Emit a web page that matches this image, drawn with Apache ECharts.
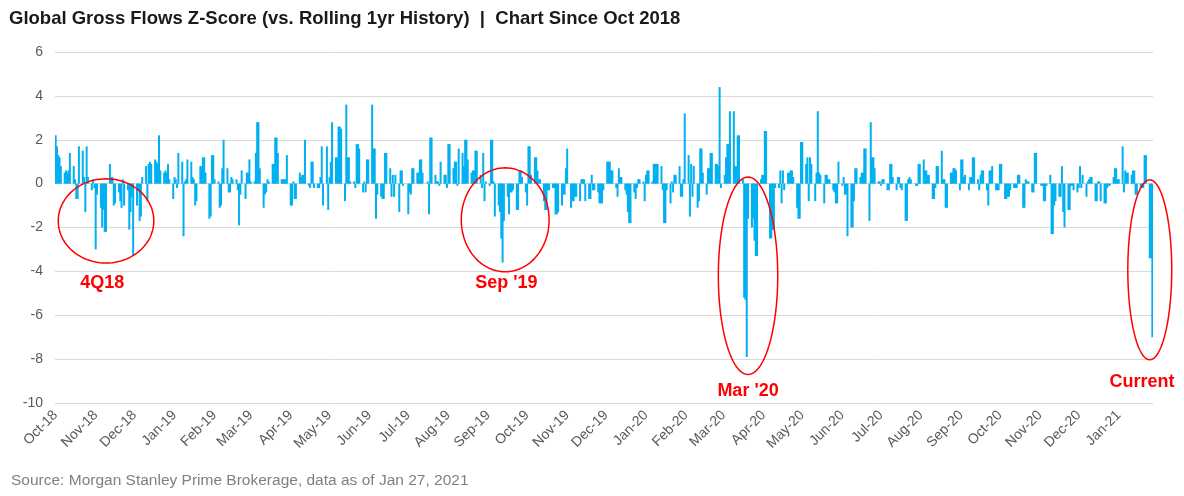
<!DOCTYPE html>
<html><head><meta charset="utf-8">
<script src="https://cdn.jsdelivr.net/npm/echarts@6/dist/echarts.min.js"></script>
<style>html,body{margin:0;padding:0;background:#fff}#c{width:1184px;height:496px}</style>
</head><body><div id="c"></div>
<script>
// ---- Data: daily z-scores, one value per weekday, grouped by month ----
const oct18 = [2.2,1.7,1.3,1.2,0.8, 0.5,0.6,0.5,0.6,1.4, 0.8,0.2,-0.7,-0.7,1.7, 1.5,0.3,-1.3,1.7,0.3, -0.3,0.2,-0.2];
const nov18 = [-3.0,-0.5, -1.1,-2.0,-1.2,-2.2,-2.2, 0.9,0.3,0.3,-1.0,-0.9, -0.4,-0.8,-1.1,0.2,-1.0, -0.3,-2.1,-1.3,-0.6,-3.3];
const dec18 = [-1.0,-0.3,-1.7,-1.5,0.3, 0.8,-0.8,0.9,1.0,0.9, 1.1,1.0,0.9,2.2,0.6, 0.5,0.6,0.5,0.9,0.2, -0.7];
const jan19 = [0.3,0.2,-0.2,1.4, 1.0,-2.4,0.1,0.2,1.1, 1.0,0.3,0.2,-1.0,-0.8, 0.8,0.8,1.2,1.2,0.5, -1.6,-1.5,1.3,1.3];
const feb19 = [0.2, 0.1,-1.1,-1.0,0.7,2.0, 0.7,-0.4,-0.4,0.3,0.2, 0.2,-0.3,-1.9,-0.5,0.6, -0.7,0.5,0.5,1.1];
const mar19 = [0.1, 0.1,1.4,2.8,2.8,0.7, -1.1,-0.5,-0.4,0.2,0.1, 0.9,0.9,2.1,2.1,1.4, 0.2,0.2,0.2,0.2,1.3];
const apr19 = [-1.0,-1.0,0.1,-0.7,-0.7, 0.5,0.3,0.4,0.4,2.0, -0.1,-0.2,1.0,1.0,-0.2, -0.2,-0.2,0.3,1.7,-1.0, 1.7,-1.2];
const may19 = [0.3,1.0,2.8, 1.2,1.2,2.6,2.6,2.5, -0.8,3.6,1.2,1.2,0.1, 0.1,-0.2,1.8,1.8,1.6, -0.4,0.1,-0.4,1.1,1.1];
const jun19 = [3.6,1.6,1.6,-1.6,-0.5, -0.6,-0.7,-0.7,1.4,1.4, 0.7,-0.6,0.4,-0.6,0.4, -1.3,0.6,0.6,-0.1,0.0];
const jul19 = [-1.4,-0.4,-0.5,0.7,0.7, 0.5,0.5,1.1,1.1,0.5, 0.0,0.1,-1.4,2.1,2.1, 0.4,0.1,0.1,-0.1,1.0, 0.4,0.4,-0.2];
const aug19 = [1.8,1.8, 0.7,1.0,1.0,-0.1,1.6, 1.4,0.8,2.0,2.0,1.1, 0.5,0.6,0.6,1.5,1.5, 0.4,-0.2,1.4,-0.8,0.1];
const sep19 = [-0.1,2.0,2.0,0.1,-1.5, -1.0,-1.3,-2.5,-3.6,-1.7, -0.6,-1.4,-0.4,-0.4,-0.3, -1.2,-1.2,0.6,0.6,0.3, -0.4];
const oct19 = [-1.0,1.7,1.7,0.4, 1.2,1.2,0.6,0.2,0.2, -0.8,-1.2,-1.2,-0.3,-0.3, -0.2,-0.2,-1.4,-1.4,-1.3, -1.0,-0.5,-0.5,0.7];
const nov19 = [1.6, -1.1,-0.8,-0.8,-0.6,-0.6, -0.8,0.2,0.2,0.2,-0.8, -0.7,-0.7,0.4,-0.3,-0.3, -0.4,-0.9,-0.9,-0.9,-0.3];
const dec19 = [1.0,1.0,1.0,0.6,0.6, -0.2,-0.6,0.7,0.3,0.3, -0.3,-0.5,-1.3,-1.8,-1.8, -0.4,-0.7,-0.2,0.2,0.2, 0.1,-0.8];
const jan20 = [0.4,0.6,0.6, 0.1,0.9,0.9,0.9,0.9, 0.8,-0.3,-1.8,-1.8,-0.3, -0.9,0.1,-0.4,0.4,0.4, 0.8,-0.6,-0.6,0.2,3.2];
const feb20 = [1.3,-1.5,0.9,-0.6,0.8, -1.1,-0.8,1.6,1.6,0.5, -0.5,0.7,0.7,1.4,1.4, 0.9,0.9,0.8,4.4,-0.2];
const mar20 = [0.4,1.2,1.8,1.8,3.3, 3.3,0.8,0.8,2.2,2.2, 0.2,-5.2,-5.3,-7.9,-1.6, -2.0,-1.6,-2.6,-3.3,-3.3, 0.2,0.4];
const apr20 = [0.4,2.4,2.4, -2.5,-2.5,-2.1,-2.1,-0.2, -0.2,0.6,-0.9,0.6,-0.3, 0.5,0.5,0.6,0.6,0.3, -1.1,-1.6,-1.6,1.9];
const may20 = [1.9, 0.9,1.2,-0.8,1.2,0.9, -0.8,0.5,3.3,0.5,0.4, -0.9,0.4,0.4,0.2,0.2, -0.3,-0.4,-0.9,-0.9,1.0];
const jun20 = [-0.1,0.3,-0.5,-0.5,-2.4, -2.0,-2.0,-0.8,0.7,0.7, 0.3,0.5,0.5,1.6,1.6, -1.7,2.8,1.2,1.2,0.7, 0.1,0.1];
const jul20 = [-0.1,0.2,0.2, -0.3,-0.3,0.9,0.9,0.3, -0.3,0.3,0.3,-0.2,-0.3, -1.7,-1.7,0.2,0.3,0.2, 0.0,-0.1,-0.1,0.9,0.9];
const aug20 = [1.1,0.6,0.6,0.4,0.4, -0.7,-0.7,-0.2,0.8,0.8, 1.5,0.2,0.2,-1.1,-1.1, 0.5,0.5,0.7,0.7,0.6, -0.3];
const sep20 = [1.1,1.1,0.3,0.4, -0.3,0.3,0.3,1.2,1.2, 0.2,-0.3,0.4,0.6,0.6, -0.3,-1.0,0.6,0.6,0.8, -0.3,-0.3,-0.3];
const oct20 = [0.9,0.9, -0.7,-0.7,-0.6,-0.6,-0.3, -0.2,-0.2,-0.2,0.4,0.4, -1.1,-1.1,0.2,0.1,0.1, -0.4,-0.4,1.4,1.4,0.0];
const nov20 = [-0.1,-0.1,-0.8,-0.8,-0.1, 0.4,-2.3,-2.3,-1.0,-0.8, -0.6,-0.6,0.8,-1.3,-2.0, -1.2,-1.2,-0.1,-0.1,-0.3, -0.4];
const dec20 = [-0.2,0.8,-0.2,0.4, -0.6,0.1,0.2,0.3,0.3, -0.8,-0.8,0.1,0.1,-0.8, -0.9,-0.9,-0.2,-0.1,-0.1, 0.3,0.7,0.7,0.2];
const jan21 = [0.2, 1.7,-0.4,0.6,0.5,0.5, 0.4,0.6,0.6,-0.5,-0.5, -0.2,-0.2,-0.2,1.3,1.3, -3.4,-3.4,-7.0];

const monthValues = {
  '2018-10': oct18, '2018-11': nov18, '2018-12': dec18,
  '2019-01': jan19, '2019-02': feb19, '2019-03': mar19, '2019-04': apr19, '2019-05': may19, '2019-06': jun19,
  '2019-07': jul19, '2019-08': aug19, '2019-09': sep19, '2019-10': oct19, '2019-11': nov19, '2019-12': dec19,
  '2020-01': jan20, '2020-02': feb20, '2020-03': mar20, '2020-04': apr20, '2020-05': may20, '2020-06': jun20,
  '2020-07': jul20, '2020-08': aug20, '2020-09': sep20, '2020-10': oct20, '2020-11': nov20, '2020-12': dec20,
  '2021-01': jan21
};
const START_DATE = '2018-10-01';
const END_DATE = '2021-01-27';
const MONTH_NAMES = ['Jan','Feb','Mar','Apr','May','Jun','Jul','Aug','Sep','Oct','Nov','Dec'];
const Y_MIN = -10, Y_MAX = 6, Y_STEP = 2;

const TITLE = 'Global Gross Flows Z-Score (vs. Rolling 1yr History)  |  Chart Since Oct 2018';
const SOURCE = 'Source: Morgan Stanley Prime Brokerage, data as of Jan 27, 2021';

// annotation callouts (date, value in chart units)
const callouts = [
  { label: '4Q18',     center: ['2018-11-09', -1.7],  rDays: 37, rVal: 1.92, at: ['2018-11-06', -4.55] },
  { label: "Sep '19",  center: ['2019-09-14', -1.65], rDays: 34, rVal: 2.37, at: ['2019-09-15', -4.55] },
  { label: "Mar '20",  center: ['2020-03-20', -4.2],  rDays: 23, rVal: 4.5,  at: ['2020-03-20', -9.45] },
  { label: 'Current',  center: ['2021-01-25', -3.93], rDays: 17, rVal: 4.1,  at: ['2021-01-19', -9.05] }
];

// ---- build calendar categories and weekday values ----
const categories = [];
const values = [];
const used = {};
for (let t = Date.parse(START_DATE + 'T00:00:00Z'); t <= Date.parse(END_DATE + 'T00:00:00Z'); t += 86400000) {
  const d = new Date(t);
  const key = d.toISOString().slice(0, 10);
  categories.push(key);
  const wd = d.getUTCDay();
  if (wd === 0 || wd === 6) { values.push('-'); continue; }
  const mk = key.slice(0, 7);
  const arr = monthValues[mk];
  const i = used[mk] || 0;
  used[mk] = i + 1;
  values.push(arr && i < arr.length ? arr[i] : '-');
}

const FONT = '"Liberation Sans", Arial, Helvetica, sans-serif';
const chart = echarts.init(document.getElementById('c'), null, { renderer: 'canvas' });
chart.setOption({
  animation: false,
  backgroundColor: '#ffffff',
  title: [
    { text: TITLE, left: 9, top: 9, padding: 0,
      textStyle: { fontFamily: FONT, fontSize: 18.5, fontWeight: 'bold', color: '#1a1a1a' } },
    { text: SOURCE, left: 11, top: 473, padding: 0,
      textStyle: { fontFamily: FONT, fontSize: 15.5, fontWeight: 'normal', color: '#808080' } }
  ],
  grid: { left: 55, right: 31, top: 52, bottom: 93 },
  xAxis: {
    type: 'category', data: categories, boundaryGap: true,
    axisLine: { show: false }, axisTick: { show: false }, splitLine: { show: false },
    axisLabel: {
      interval: (i, v) => v.slice(8) === '01',
      rotate: 45, margin: 10, color: '#595959', fontSize: 14, fontFamily: FONT,
      formatter: v => MONTH_NAMES[+v.slice(5, 7) - 1] + '-' + v.slice(2, 4)
    }
  },
  yAxis: {
    type: 'value', min: Y_MIN, max: Y_MAX, interval: Y_STEP,
    axisLine: { show: false }, axisTick: { show: false },
    splitLine: { lineStyle: { color: '#D9D9D9', width: 1 } },
    axisLabel: { color: '#595959', fontSize: 14, fontFamily: FONT, margin: 12 }
  },
  series: [{
    type: 'bar', data: values, barWidth: 2, silent: true,
    itemStyle: { color: '#00B0F0' }
  }]
});

function toPx(idx, val) { return chart.convertToPixel({ gridIndex: 0 }, [idx, val]); }
const graphics = [];
callouts.forEach(c => {
  const ci = categories.indexOf(c.center[0]);
  const p = toPx(ci, c.center[1]);
  const pl = toPx(ci - c.rDays, c.center[1] + c.rVal);
  const rx = p[0] - pl[0], ry = p[1] - pl[1];
  const pts = [];
  for (let k = 0; k < 96; k++) {
    const a = k / 96 * Math.PI * 2;
    pts.push([p[0] + rx * Math.cos(a), p[1] + ry * Math.sin(a)]);
  }
  graphics.push({ type: 'polygon', shape: { points: pts }, silent: true, z: 100,
    style: { fill: null, stroke: '#FF0000', lineWidth: 1.5 } });
  const tp = toPx(categories.indexOf(c.at[0]), c.at[1]);
  graphics.push({ type: 'text', x: tp[0], y: tp[1], silent: true, z: 101,
    style: { text: c.label, fill: '#FF0000', font: 'bold 18px ' + FONT, align: 'center', verticalAlign: 'middle' } });
});
chart.setOption({ graphic: graphics });
</script>
</body></html>
